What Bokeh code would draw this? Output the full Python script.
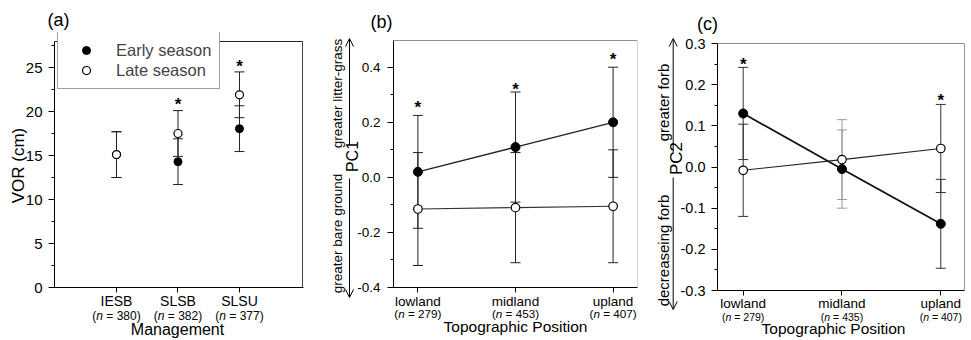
import numpy as np
from bokeh.plotting import figure
from bokeh.models import (ColumnDataSource, Whisker, TeeHead, Label, Arrow, OpenHead, GridBox,
                          FixedTicker, Span, Legend, LegendItem, Range1d, PrintfTickFormatter)
from bokeh.core.properties import value
from bokeh.embed import file_html
from bokeh.resources import INLINE

FONT = "Liberation Sans"

# ---------------- data ----------------
# (a) VOR by management
management = ["IESB", "SLSB", "SLSU"]
management_n = ["380", "382", "377"]
vor_early = [15.1, 14.3, 18.05]
vor_early_se = [2.6, 2.6, 2.6]
vor_late = [15.1, 17.5, 21.9]
vor_late_se = [2.6, 2.6, 2.6]
vor_star_cat = ["SLSB", "SLSU"]
vor_star_y = [21.1, 25.5]
vor_ticks = [0, 5, 10, 15, 20, 25]
vor_minor = [2.5, 7.5, 12.5, 17.5, 22.5, 27.5]

# (b) PC1 by topographic position
topo = ["lowland", "midland", "upland"]
pc1_n = ["279", "453", "407"]
pc1_early = [0.02, 0.11, 0.20]
pc1_early_se = [0.205, 0.20, 0.20]
pc1_late = [-0.115, -0.11, -0.105]
pc1_late_se = [0.205, 0.20, 0.205]
pc1_star_cat = ["lowland", "midland", "upland"]
pc1_star_y = [0.265, 0.33, 0.44]
pc1_ticks = [-0.4, -0.2, 0.0, 0.2, 0.4]
pc1_minor = [-0.3, -0.1, 0.1, 0.3]

# (c) PC2 by topographic position
pc2_n = ["279", "435", "407"]
pc2_early = [0.13, -0.005, -0.138]
pc2_early_se = [0.112, 0.095, 0.108]
pc2_late = [-0.008, 0.018, 0.045]
pc2_late_se = [0.112, 0.097, 0.107]
pc2_star_cat = ["lowland", "upland"]
pc2_star_y = [0.257, 0.17]
pc2_ticks = [-0.3, -0.2, -0.1, 0.0, 0.1, 0.2, 0.3]
pc2_minor = [-0.25, -0.15, -0.05, 0.05, 0.15, 0.25]

W_TOTAL = 971
H = 340


class Panel:
    def __init__(self, page_left, width, fl, fr, ft, fb, xr, yr):
        self.fl, self.fr, self.ft, self.fb = fl, fr, ft, fb
        self.xr, self.yr = xr, yr
        self.fig = figure(width=width, height=H, x_range=Range1d(*xr), y_range=Range1d(*yr),
                          min_border_left=fl - page_left, min_border_right=page_left + width - fr,
                          min_border_top=ft, min_border_bottom=H - fb,
                          output_backend="svg", toolbar_location=None, tools="")
        p = self.fig
        p.frame_align = False
        p.grid.visible = False
        p.outline_line_color = None
        p.background_fill_color = "white"
        p.border_fill_color = "white"

    def X(self, px):
        return self.xr[0] + (px - self.fl) * (self.xr[1] - self.xr[0]) / (self.fr - self.fl)

    def Y(self, py):
        return self.yr[0] + (self.fb - py) * (self.yr[1] - self.yr[0]) / (self.fb - self.ft)

    def PX(self, x):
        return self.fl + (x - self.xr[0]) * (self.fr - self.fl) / (self.xr[1] - self.xr[0])


def style_axes(pn, cats, xfs, xstand, ticks, minor, yfs, ystand, fmt=None, ybounds=None):
    p = pn.fig
    pos = list(range(1, len(cats) + 1))
    xa = p.xaxis[0]
    xa.ticker = FixedTicker(ticks=pos, minor_ticks=[])
    xa.major_label_overrides = {k: c for k, c in zip(pos, cats)}
    xa.major_tick_out = 5
    xa.major_tick_in = 0
    xa.minor_tick_out = 0
    xa.major_label_standoff = xstand
    xa.major_label_text_font = FONT
    xa.major_label_text_font_size = f"{xfs}px"
    xa.major_label_text_color = "black"
    xa.axis_line_color = "black"
    xa.major_tick_line_color = "black"
    ya = p.yaxis[0]
    ya.ticker = FixedTicker(ticks=ticks, minor_ticks=minor)
    if fmt:
        ya.formatter = PrintfTickFormatter(format=fmt)
    if ybounds:
        ya.bounds = ybounds
    ya.major_tick_out = 6
    ya.major_tick_in = 0
    ya.minor_tick_out = 3
    ya.minor_tick_in = 0
    ya.major_label_standoff = ystand
    ya.major_label_text_font = FONT
    ya.major_label_text_font_size = f"{yfs}px"
    ya.major_label_text_color = "black"
    ya.axis_line_color = "black"
    ya.major_tick_line_color = "black"
    ya.minor_tick_line_color = "black"


def errbars(pn, y, se, color, idx):
    src = ColumnDataSource(dict(x=[i + 1 for i in idx],
                                lo=[y[i] - se[i] for i in idx],
                                hi=[y[i] + se[i] for i in idx]))
    w = Whisker(base="x", lower="lo", upper="hi", source=src, line_color=color, line_width=1,
                upper_head=TeeHead(size=10, line_color=color, line_width=1),
                lower_head=TeeHead(size=10, line_color=color, line_width=1))
    pn.fig.add_layout(w)


def stars(pn, cats, all_cats, ys, size=17):
    xs = [all_cats.index(c) + 1 for c in cats]
    pn.fig.text(x=xs, y=ys, text=["*"] * len(xs), text_font=value(FONT),
                text_font_size=f"{size}px", text_font_style="bold", text_align="center",
                text_baseline="alphabetic", y_offset=3, text_color="black")


# ---------------- overlay for texts/arrows outside the plot frames ----------------
ov = figure(width=W_TOTAL, height=H, x_range=Range1d(0, W_TOTAL), y_range=Range1d(H, 0),
            min_border=0, x_axis_location=None, y_axis_location=None,
            output_backend="svg", toolbar_location=None, tools="")
ov.frame_align = False
ov.grid.visible = False
ov.outline_line_color = None
ov.background_fill_alpha = 0
ov.border_fill_alpha = 0


def otxt(x, y, s, size, angle=0.0, style="normal", align="center"):
    ov.add_layout(Label(x=x, y=y, text=s, text_font=FONT, text_font_size=f"{size}px",
                        angle=angle, text_align=align, text_baseline="middle",
                        text_font_style=style, text_color="black"))


def nlabel(cx, y, nval, size):
    w_rest = (0.584 + 0.278 + 0.556 * len(nval) + 0.333) * size
    W = (0.333 + 0.556 + 0.278) * size + w_rest
    left = cx - W / 2
    otxt(left, y, "(", size, align="left")
    otxt(left + 0.333 * size, y, "n", size, style="italic", align="left")
    otxt(left + (0.333 + 0.556 + 0.278) * size, y, f"= {nval})", size, align="left")


def oarrow(x, y0, y1):
    ov.add_layout(Arrow(end=OpenHead(size=8, line_width=1, line_color="black"),
                        x_start=x, y_start=y0, x_end=x, y_end=y1,
                        line_width=1, line_color="black"))


# ---------------- panel (a) ----------------
A = Panel(0, 330, 54, 303, 32, 287, (-0.008, 4.041), (0, 255 / 8.8))
style_axes(A, management, 14, 0, vor_ticks, vor_minor, 15, 6, ybounds=(0, A.Y(41)))
pa = A.fig
ytop_a = A.Y(41)
xright_a = A.X(302)
pa.segment(x0=[A.xr[0], xright_a], y0=[ytop_a, 0], x1=[xright_a, xright_a], y1=[ytop_a, ytop_a],
           line_color=["#222222", "#444444"], line_width=1)
xa = list(range(1, len(management) + 1))
idx = list(range(len(management)))
errbars(A, vor_early, vor_early_se, "#222222", idx)
errbars(A, vor_late, vor_late_se, "#222222", idx)
r_early = pa.scatter(xa, vor_early, marker="circle", size=8, fill_color="black", line_color="black")
r_late = pa.scatter(xa, vor_late, marker="circle", size=8, fill_color="white", line_color="black",
                    line_width=1.2)
stars(A, vor_star_cat, management, vor_star_y)
legend = Legend(items=[LegendItem(label="Early season", renderers=[r_early]),
                       LegendItem(label="Late season", renderers=[r_late])],
                location=(3, 198), label_text_font=FONT, label_text_font_size="16.5px",
                glyph_width=40, glyph_height=20, label_height=20, label_standoff=10,
                padding=8, spacing=0, margin=0, border_line_color="#444444",
                border_line_width=1, background_fill_color="white", background_fill_alpha=1.0)
pa.add_layout(legend)
otxt(58, 19, "(a)", 18)
otxt(17.5, 165, "VOR (cm)", 17, angle=np.pi / 2)
for i, n in enumerate(management_n):
    nlabel(A.PX(i + 1), 315.5, n, 12)
otxt(177, 328.5, "Management", 16)

# ---------------- panel (b) ----------------
B = Panel(330, 325, 393, 637, 40, 287, (0.75, 3.25), (-0.4, 0.497))
style_axes(B, topo, 13.5, 1, pc1_ticks, pc1_minor, 13.5, 7, fmt="%.1f")
pb = B.fig
pb.add_layout(Span(location=B.yr[1], dimension="width", line_color="#222222", line_width=1))
pb.add_layout(Span(location=B.xr[1], dimension="height", line_color="#aaaaaa", line_width=1))
xb = list(range(1, len(topo) + 1))
idx = list(range(len(topo)))
errbars(B, pc1_early, pc1_early_se, "#222222", idx)
errbars(B, pc1_late, pc1_late_se, "#222222", idx)
pb.line(xb, pc1_early, line_color="#222222", line_width=1.3)
pb.line(xb, pc1_late, line_color="#333333", line_width=1.2)
pb.scatter(xb, pc1_early, marker="circle", size=9, fill_color="black", line_color="black")
pb.scatter(xb, pc1_late, marker="circle", size=8.5, fill_color="white", line_color="black",
           line_width=1.2)
stars(B, pc1_star_cat, topo, pc1_star_y)
otxt(381, 21, "(b)", 18)
otxt(337, 93, "greater litter-grass", 13.5, angle=np.pi / 2)
otxt(351.5, 156, "PC1", 16, angle=np.pi / 2)
otxt(337, 233, "greater bare ground", 13.5, angle=np.pi / 2)
oarrow(349, 145, 38)
oarrow(349, 178, 297)
for i, n in enumerate(pc1_n):
    nlabel(B.PX(i + 1), 312.5, n, 11.7)
otxt(515, 326, "Topographic Position", 15.5)

# ---------------- panel (c) ----------------
C = Panel(655, 316, 717, 964, 43, 290, (0.74, 3.24), (-0.3, 0.3))
style_axes(C, topo, 13.5, 0, pc2_ticks, pc2_minor, 14.5, 6, fmt="%.1f")
pc = C.fig
pc.add_layout(Span(location=C.yr[1], dimension="width", line_color="#222222", line_width=1))
pc.add_layout(Span(location=C.xr[1], dimension="height", line_color="#333333", line_width=1))
xc = list(range(1, len(topo) + 1))
errbars(C, pc2_early, pc2_early_se, "#333333", [0, 2])
errbars(C, pc2_late, pc2_late_se, "#333333", [0, 2])
errbars(C, pc2_early, pc2_early_se, "#999999", [1])
errbars(C, pc2_late, pc2_late_se, "#999999", [1])
pc.line(xc, pc2_early, line_color="#111111", line_width=1.8)
pc.line(xc, pc2_late, line_color="#222222", line_width=1.1)
pc.scatter(xc, pc2_early, marker="circle", size=9, fill_color="black", line_color="black")
pc.scatter(xc, pc2_late, marker="circle", size=8.5, fill_color="white", line_color="black",
           line_width=1.2)
stars(C, pc2_star_cat, topo, pc2_star_y)
otxt(707, 23, "(c)", 18)
otxt(663, 102, "greater forb", 15, angle=np.pi / 2)
otxt(676, 158, "PC2", 17, angle=np.pi / 2)
otxt(663, 250, "decreaseing forb", 15, angle=np.pi / 2)
oarrow(672.7, 153, 38)
oarrow(672.7, 177, 309)
for i, n in enumerate(pc2_n):
    nlabel(C.PX(i + 1), 316.5, n, 10.5)
otxt(833, 328, "Topographic Position", 15.5)

layout = GridBox(children=[(pa, 0, 0), (pb, 0, 1), (pc, 0, 2), (ov, 0, 0, 1, 3)], spacing=0)
open("out.html", "w").write(file_html(layout, INLINE))
